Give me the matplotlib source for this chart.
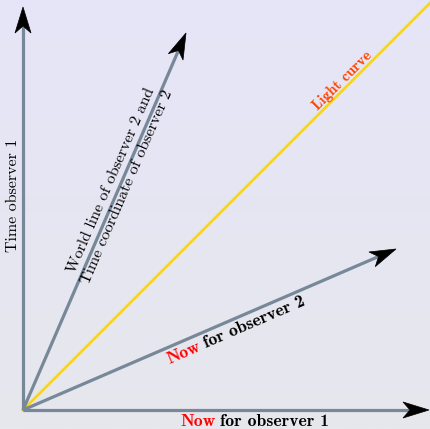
import numpy as np
import matplotlib.pyplot as plt
from matplotlib.patches import Polygon

# spacetime diagram, units are pixels with the common origin at (0, 0)
axis_tips = [(0, 403), (406, 0)]            # time and space of observer 1
obs2_tips = [(163, 377), (373, 161)]        # world line and "now" of observer 2
light_end = (430, 430)

axis_color = '#778899'
light_color = '#FFD700'

W, H = 430, 429
fig = plt.figure(figsize=(W / 100, H / 100), dpi=100)
ax = fig.add_axes([0, 0, 1, 1])
xlim = (-23, W - 23)
ylim = (-19, H - 19)
ax.set_xlim(*xlim)
ax.set_ylim(*ylim)
ax.axis('off')

# background gradient, a bit bluer at the top
top = np.array([229, 229, 248]) / 255
bot = np.array([231, 231, 237]) / 255
t = np.linspace(0, 1, 200)[:, None]
grad = (top * (1 - t) + bot * t)[:, None, :]
ax.imshow(grad, extent=(*xlim, *ylim), aspect='auto', zorder=0)


def stealth_arrow(ax, tip, color=axis_color, length=26, half=8, inset=7):
    tip = np.asarray(tip, float)
    d = tip / np.hypot(*tip)
    n = np.array([-d[1], d[0]])
    back = tip - d * length
    notch = tip - d * (length - inset)
    ax.plot([0, notch[0]], [0, notch[1]], color=color, lw=2.3,
            solid_capstyle='butt', zorder=2)
    ax.add_patch(Polygon([tip, back + n * half, notch, back - n * half],
                         closed=True, fc='black', ec='black', lw=0.5, zorder=3))


ax.plot([0, light_end[0]], [0, light_end[1]], color=light_color, lw=1.9, zorder=1)
for tip in axis_tips + obs2_tips:
    stealth_arrow(ax, tip)

reg = 'cmr10'
bold = 'cmb10'
fs = 11.5
fs_now = 12.7

ax.text(-10, 215, 'Time observer 1', rotation=90, ha='center', va='center',
        family=reg, fontsize=fs)

ang2 = np.degrees(np.arctan2(obs2_tips[0][1], obs2_tips[0][0]))
ax.text(96, 226, 'World line of observer 2 and\nTime coordinate of observer 2',
        rotation=ang2, rotation_mode='anchor', ha='center', va='center',
        multialignment='center', linespacing=1.3, family=reg, fontsize=fs)

ax.text(319, 329, 'Light curve', rotation=45, rotation_mode='anchor',
        ha='center', va='center', family=bold, fontsize=11, color='#FF4500')

renderer = fig.canvas.get_renderer()


def two_color_label(ax, center, angle, parts, colors):
    # measure each part unrotated, then lay them out along the angle
    widths = []
    for p in parts:
        tmp = ax.text(0, 0, p, family=bold, fontsize=fs_now)
        widths.append(tmp.get_window_extent(renderer).width)
        tmp.remove()
    sp = fs_now * 0.33
    total = sum(widths) + sp * (len(parts) - 1)
    a = np.radians(angle)
    d = np.array([np.cos(a), np.sin(a)])
    start = np.asarray(center, float) - d * total / 2
    pos = 0.0
    for p, w, c in zip(parts, widths, colors):
        xy = start + d * pos
        ax.text(xy[0], xy[1], p, rotation=angle, rotation_mode='anchor',
                ha='left', va='center', family=bold, fontsize=fs_now, color=c)
        pos += w + sp


ang_now2 = np.degrees(np.arctan2(obs2_tips[1][1], obs2_tips[1][0]))
two_color_label(ax, (213, 80), ang_now2, ['Now', 'for observer 2'], ['#FF0000', 'black'])
two_color_label(ax, (232, -11), 0, ['Now', 'for observer 1'], ['#FF0000', 'black'])

fig.savefig('out.png', dpi=100)
